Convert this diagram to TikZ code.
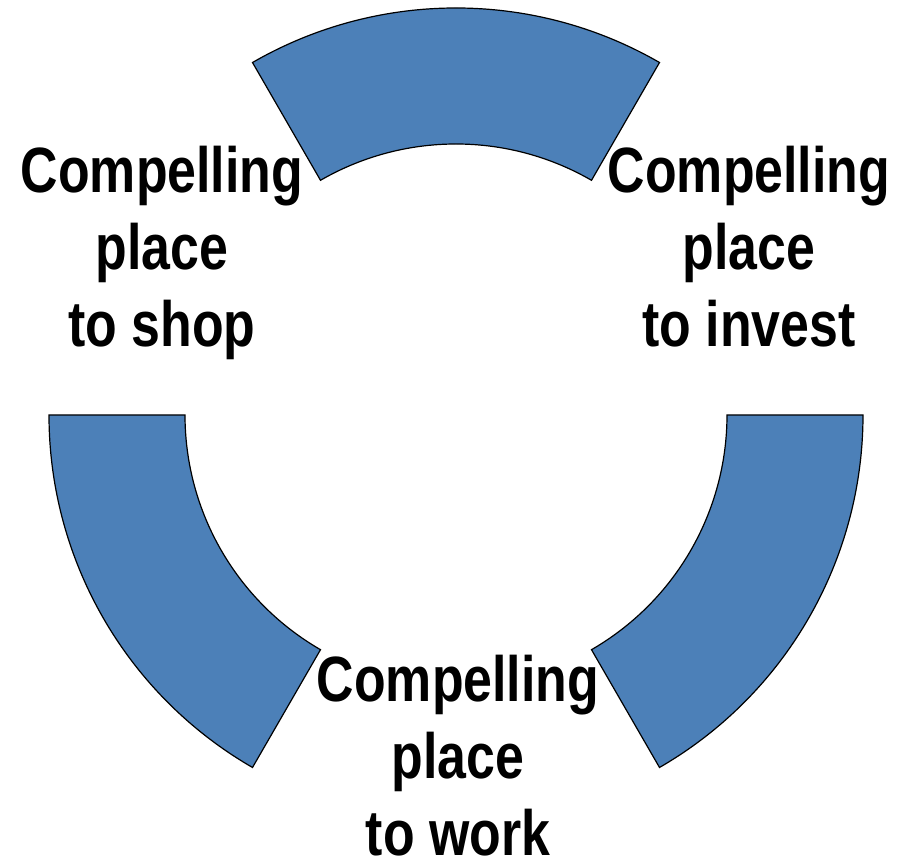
\documentclass[tikz,border=0pt]{standalone}
\usepackage{fontspec}
\usetikzlibrary{calc}
\newfontfamily\lblfont{Liberation Sans}[FakeStretch=0.81]
\definecolor{ringblue}{RGB}{76,128,184}
\begin{document}
\begin{tikzpicture}[x=1pt,y=1pt,
  segment/.style={fill=ringblue,draw=black,line width=1.2pt,line join=miter},
  label/.style={align=center,inner sep=0pt,anchor=north,
    font=\lblfont\bfseries\fontsize{64}{77}\selectfont}]
  \useasboundingbox (0,0) rectangle (898,861);
  \coordinate (c) at (456,446);
  % three ring segments, each 60 degrees wide, inner radius 271, outer 407
  \foreach \a/\b/\n in {60/120/top,180/240/left,300/360/right}{
    \draw[segment] ($(c)+(\a:407pt)$) coordinate (\n-o)
      arc[start angle=\a,end angle=\b,radius=407pt]
      -- ($(c)+(\b:271pt)$)
      arc[start angle=\b,end angle=\a,radius=271pt] -- cycle;
  }
  \node[label] (shop)   at (162,715) {Compelling\\place\\to shop};
  \node[label] (invest) at (749,715) {Compelling\\place\\to invest};
  \node[label] (work)   at (458,206) {Compelling\\place\\to work};
\end{tikzpicture}
\end{document}
